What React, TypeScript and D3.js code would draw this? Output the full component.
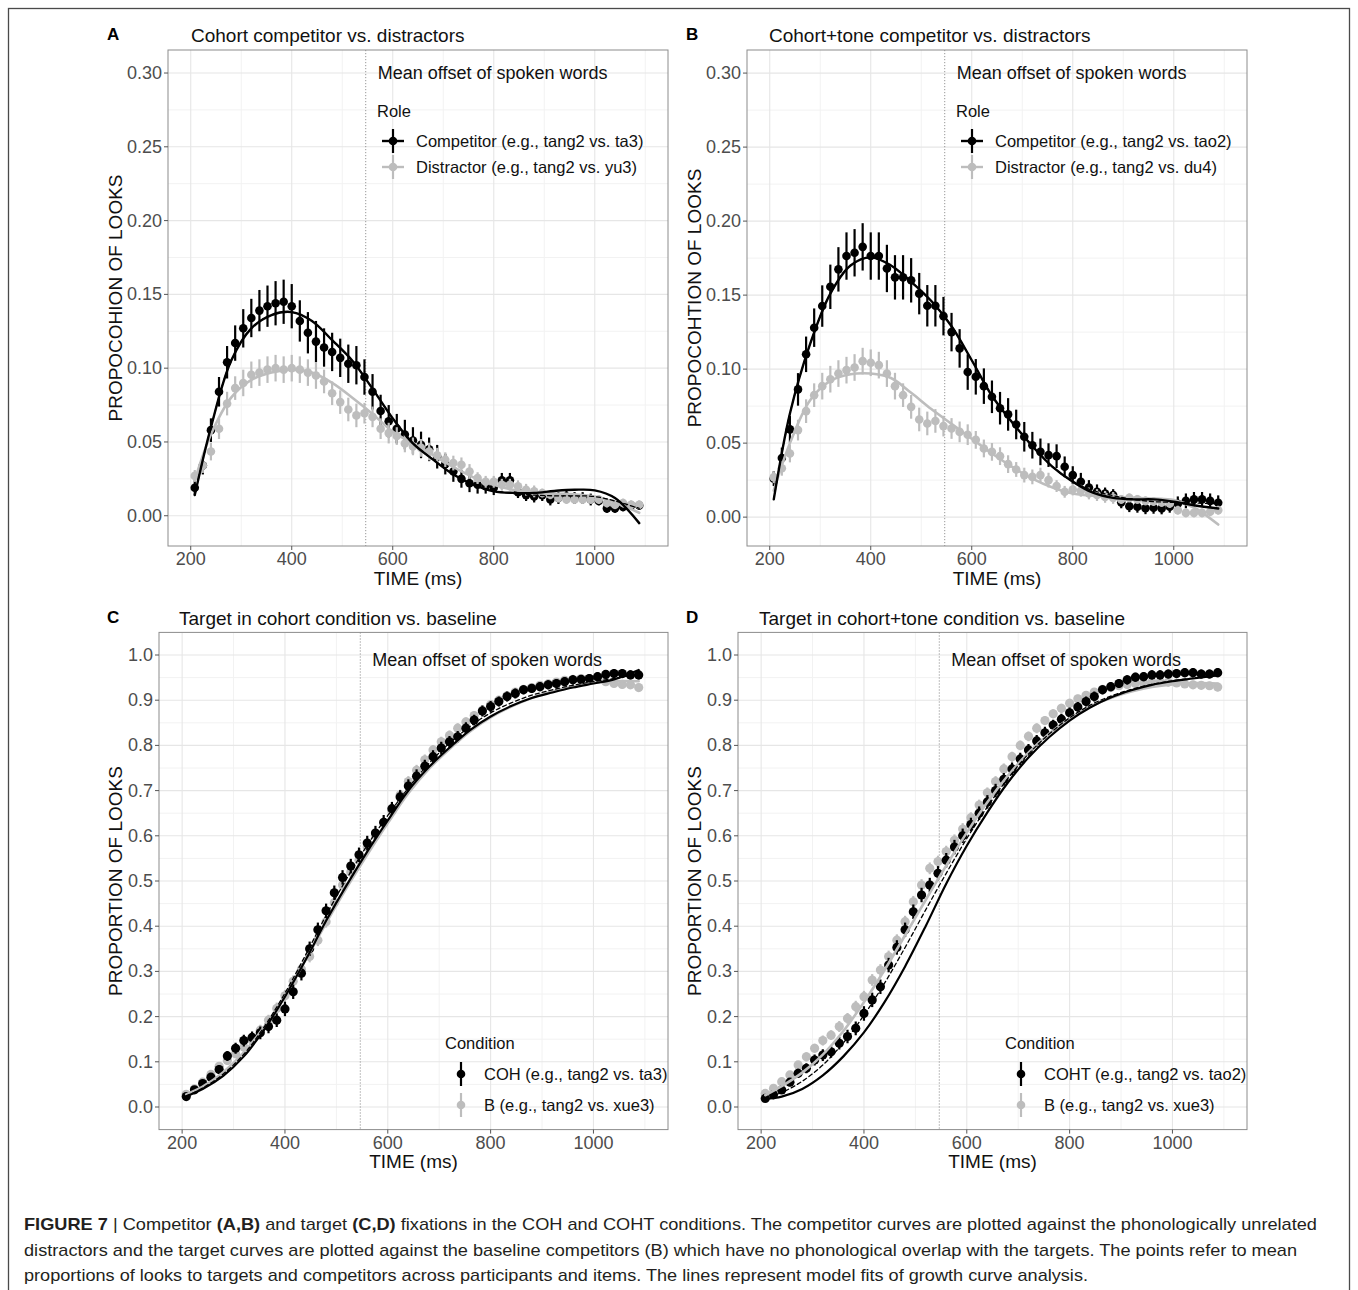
import React from 'react';
import * as d3 from 'd3';

// ---------- data ----------
const times = [208,224,240,256,272,288,304,320,336,352,368,384,400,416,432,448,464,480,496,512,528,544,560,576,592,608,624,640,656,672,688,704,720,736,752,768,784,800,816,832,848,864,880,896,912,928,944,960,976,992,1008,1024,1040,1056,1072,1088];
const fitTimes = [208,240,280,320,360,400,440,480,520,560,600,640,680,720,760,800,840,880,920,960,1000,1040,1088];
const xMajorTicks = [200,400,600,800,1000];
const xMinorTicks = [300,500,700,900,1100];
const offsetTime = 546.5;

// Panel A
const aCompetitor = [0.019,0.034,0.058,0.084,0.104,0.117,0.127,0.134,0.139,0.142,0.144,0.145,0.142,0.132,0.124,0.118,0.114,0.111,0.107,0.103,0.102,0.094,0.084,0.071,0.064,0.059,0.055,0.051,0.048,0.045,0.040,0.035,0.030,0.025,0.022,0.021,0.020,0.019,0.024,0.024,0.016,0.014,0.013,0.014,0.011,0.012,0.013,0.012,0.012,0.011,0.010,0.005,0.005,0.006,0.007,0.007];
const aCompetitorErr = [0.005,0.006,0.008,0.010,0.011,0.012,0.013,0.013,0.014,0.014,0.015,0.015,0.015,0.014,0.014,0.014,0.013,0.013,0.013,0.013,0.013,0.012,0.012,0.011,0.011,0.010,0.010,0.009,0.009,0.008,0.008,0.007,0.007,0.006,0.006,0.006,0.005,0.005,0.005,0.005,0.004,0.004,0.004,0.004,0.004,0.004,0.004,0.004,0.004,0.004,0.003,0.003,0.003,0.003,0.003,0.003];
const aDistractor = [0.027,0.034,0.0435,0.059,0.076,0.0865,0.090,0.0955,0.097,0.099,0.100,0.099,0.100,0.099,0.097,0.095,0.091,0.083,0.077,0.072,0.068,0.0695,0.067,0.059,0.056,0.054,0.049,0.047,0.046,0.0435,0.041,0.038,0.0357,0.0345,0.030,0.0255,0.023,0.023,0.021,0.021,0.020,0.0176,0.0165,0.0154,0.0142,0.012,0.011,0.011,0.011,0.011,0.011,0.0086,0.0075,0.0086,0.0075,0.0075];
const aDistractorErr = [0.004,0.005,0.006,0.007,0.008,0.008,0.009,0.009,0.009,0.009,0.009,0.009,0.009,0.009,0.009,0.009,0.008,0.008,0.008,0.008,0.008,0.007,0.007,0.007,0.007,0.006,0.006,0.006,0.006,0.006,0.005,0.005,0.005,0.005,0.005,0.004,0.004,0.004,0.004,0.004,0.004,0.004,0.004,0.003,0.003,0.003,0.003,0.003,0.003,0.003,0.003,0.003,0.003,0.003,0.003,0.003];
const aCompetitorFit = [0.014,0.060,0.105,0.127,0.136,0.138,0.132,0.119,0.105,0.086,0.066,0.049,0.038,0.028,0.021,0.0165,0.0155,0.0155,0.0168,0.0176,0.0172,0.012,-0.005];
const aDistractorFit = [0.024,0.055,0.080,0.092,0.097,0.099,0.097,0.090,0.080,0.069,0.057,0.049,0.041,0.033,0.026,0.021,0.0175,0.016,0.015,0.0145,0.013,0.009,0.002];
const aDashedFit = [0.014,0.060,0.105,0.127,0.136,0.138,0.132,0.119,0.105,0.086,0.066,0.049,0.038,0.028,0.021,0.017,0.015,0.014,0.0135,0.0135,0.013,0.010,0.005];

// Panel B
const bCompetitor = [0.026,0.040,0.0593,0.0863,0.110,0.128,0.1426,0.1556,0.1674,0.1764,0.1786,0.1826,0.1764,0.1764,0.168,0.162,0.162,0.160,0.151,0.1428,0.1428,0.1358,0.125,0.114,0.098,0.0948,0.0885,0.0813,0.0736,0.0694,0.0626,0.0543,0.0486,0.0441,0.0419,0.0412,0.034,0.0284,0.0239,0.020,0.0171,0.016,0.0149,0.010,0.0074,0.007,0.006,0.0063,0.0059,0.007,0.009,0.011,0.012,0.012,0.011,0.0097];
const bCompetitorErr = [0.005,0.007,0.009,0.011,0.012,0.013,0.014,0.015,0.015,0.016,0.016,0.016,0.016,0.016,0.016,0.015,0.015,0.015,0.014,0.014,0.014,0.013,0.013,0.013,0.012,0.012,0.012,0.011,0.011,0.011,0.010,0.010,0.009,0.009,0.008,0.008,0.007,0.006,0.006,0.005,0.005,0.004,0.004,0.004,0.004,0.004,0.004,0.004,0.004,0.004,0.005,0.005,0.005,0.005,0.005,0.005];
const bDistractor = [0.027,0.033,0.043,0.0588,0.0716,0.0824,0.0885,0.0932,0.097,0.0993,0.1011,0.1054,0.1043,0.1027,0.097,0.0885,0.0824,0.0745,0.066,0.0633,0.065,0.0615,0.0599,0.0576,0.0557,0.0522,0.0464,0.0441,0.0412,0.0358,0.0322,0.0284,0.0272,0.0284,0.025,0.021,0.0171,0.0187,0.0178,0.016,0.0149,0.0137,0.013,0.012,0.013,0.012,0.011,0.0106,0.010,0.0092,0.0047,0.0029,0.0029,0.0029,0.0036,0.0047];
const bDistractorErr = [0.004,0.005,0.006,0.007,0.008,0.008,0.009,0.009,0.009,0.009,0.009,0.009,0.009,0.009,0.009,0.009,0.008,0.008,0.008,0.008,0.008,0.007,0.007,0.007,0.007,0.006,0.006,0.006,0.006,0.006,0.005,0.005,0.005,0.005,0.005,0.004,0.004,0.004,0.004,0.004,0.004,0.004,0.004,0.003,0.003,0.003,0.003,0.003,0.003,0.003,0.003,0.003,0.003,0.003,0.003,0.003];
const bCompetitorFit = [0.012,0.070,0.117,0.151,0.170,0.1755,0.170,0.159,0.146,0.129,0.106,0.082,0.064,0.048,0.034,0.024,0.0165,0.013,0.012,0.012,0.0105,0.008,0.0058];
const bDistractorFit = [0.018,0.050,0.079,0.092,0.0965,0.097,0.094,0.084,0.073,0.063,0.053,0.043,0.034,0.026,0.020,0.016,0.0145,0.0135,0.013,0.0125,0.0115,0.0065,-0.005];
const bDashedFit = [0.012,0.070,0.117,0.151,0.170,0.1755,0.170,0.159,0.146,0.129,0.106,0.082,0.064,0.048,0.034,0.024,0.018,0.0145,0.012,0.0105,0.010,0.0095,0.009];

// Panel C
const cCoh = [0.023,0.038,0.052,0.066,0.083,0.113,0.130,0.147,0.154,0.164,0.178,0.192,0.217,0.255,0.296,0.350,0.392,0.434,0.474,0.508,0.533,0.558,0.584,0.606,0.630,0.660,0.686,0.710,0.732,0.754,0.775,0.794,0.808,0.819,0.838,0.856,0.876,0.886,0.897,0.908,0.915,0.923,0.926,0.930,0.934,0.937,0.941,0.945,0.946,0.948,0.952,0.957,0.959,0.959,0.956,0.956];
const cCohErr = [0.006,0.007,0.008,0.009,0.010,0.011,0.012,0.013,0.013,0.014,0.015,0.015,0.016,0.016,0.016,0.016,0.016,0.016,0.016,0.016,0.016,0.016,0.016,0.016,0.016,0.015,0.015,0.015,0.015,0.014,0.014,0.014,0.013,0.013,0.013,0.012,0.012,0.012,0.011,0.011,0.011,0.010,0.010,0.010,0.010,0.010,0.010,0.010,0.010,0.010,0.010,0.010,0.010,0.010,0.010,0.010];
const cBase = [0.028,0.040,0.055,0.072,0.090,0.103,0.118,0.133,0.148,0.170,0.192,0.218,0.246,0.278,0.305,0.333,0.369,0.410,0.452,0.491,0.520,0.546,0.575,0.600,0.628,0.655,0.690,0.720,0.745,0.768,0.790,0.808,0.822,0.838,0.852,0.866,0.878,0.890,0.900,0.910,0.918,0.924,0.928,0.933,0.936,0.940,0.944,0.946,0.948,0.948,0.946,0.941,0.937,0.935,0.934,0.928];
const cBaseErr = [0.005,0.006,0.007,0.008,0.009,0.010,0.010,0.011,0.011,0.012,0.012,0.013,0.013,0.013,0.013,0.013,0.013,0.013,0.013,0.013,0.013,0.013,0.013,0.013,0.013,0.012,0.012,0.012,0.012,0.012,0.011,0.011,0.011,0.011,0.010,0.010,0.010,0.010,0.009,0.009,0.009,0.009,0.009,0.009,0.009,0.009,0.009,0.009,0.009,0.009,0.009,0.009,0.009,0.009,0.009,0.009];
const cCohFit = [0.024,0.040,0.069,0.112,0.172,0.244,0.325,0.412,0.491,0.565,0.634,0.700,0.752,0.795,0.834,0.864,0.887,0.905,0.917,0.928,0.937,0.946,0.967];
const cBaseFit = [0.028,0.045,0.077,0.121,0.178,0.247,0.325,0.407,0.485,0.558,0.628,0.694,0.748,0.792,0.831,0.862,0.886,0.905,0.919,0.930,0.938,0.942,0.942];
const cDashedFit = [0.024,0.042,0.073,0.117,0.178,0.252,0.336,0.424,0.505,0.579,0.645,0.706,0.760,0.805,0.842,0.872,0.894,0.911,0.923,0.933,0.941,0.948,0.958];

// Panel D
const dCoht = [0.019,0.027,0.0376,0.055,0.0745,0.0856,0.104,0.115,0.122,0.141,0.156,0.174,0.207,0.237,0.266,0.314,0.353,0.392,0.432,0.469,0.491,0.517,0.546,0.575,0.600,0.625,0.650,0.675,0.700,0.725,0.748,0.770,0.790,0.810,0.828,0.845,0.858,0.872,0.885,0.897,0.908,0.923,0.930,0.937,0.945,0.951,0.952,0.956,0.956,0.958,0.959,0.961,0.961,0.958,0.958,0.961];
const dCohtErr = [0.006,0.007,0.008,0.009,0.010,0.011,0.012,0.013,0.013,0.014,0.015,0.015,0.016,0.016,0.016,0.016,0.016,0.016,0.016,0.016,0.016,0.016,0.016,0.016,0.016,0.015,0.015,0.015,0.015,0.014,0.014,0.014,0.013,0.013,0.013,0.012,0.012,0.012,0.011,0.011,0.011,0.010,0.010,0.010,0.010,0.010,0.010,0.010,0.010,0.010,0.010,0.010,0.010,0.010,0.010,0.010];
const dBase = [0.030,0.041,0.056,0.071,0.093,0.111,0.130,0.147,0.159,0.178,0.196,0.222,0.244,0.281,0.303,0.333,0.369,0.410,0.454,0.491,0.528,0.543,0.565,0.590,0.615,0.640,0.668,0.695,0.720,0.748,0.775,0.800,0.820,0.838,0.855,0.870,0.882,0.893,0.903,0.911,0.918,0.924,0.928,0.932,0.935,0.937,0.938,0.940,0.940,0.940,0.938,0.936,0.934,0.933,0.932,0.929];
const dBaseErr = [0.005,0.006,0.007,0.008,0.009,0.010,0.010,0.011,0.011,0.012,0.012,0.013,0.013,0.013,0.013,0.013,0.013,0.013,0.013,0.013,0.013,0.013,0.013,0.013,0.013,0.012,0.012,0.012,0.012,0.012,0.011,0.011,0.011,0.011,0.010,0.010,0.010,0.010,0.009,0.009,0.009,0.009,0.009,0.009,0.009,0.009,0.009,0.009,0.009,0.009,0.009,0.009,0.009,0.009,0.009,0.009];
const dCohtFit = [0.018,0.023,0.040,0.070,0.112,0.165,0.232,0.311,0.400,0.494,0.578,0.652,0.718,0.773,0.818,0.855,0.884,0.906,0.922,0.934,0.942,0.948,0.955];
const dBaseFit = [0.026,0.046,0.076,0.116,0.168,0.232,0.303,0.380,0.458,0.534,0.607,0.674,0.733,0.784,0.826,0.860,0.886,0.905,0.919,0.929,0.935,0.938,0.937];
const dDashedFit = [0.020,0.032,0.057,0.093,0.142,0.203,0.274,0.353,0.436,0.517,0.594,0.664,0.727,0.781,0.825,0.861,0.889,0.909,0.924,0.935,0.943,0.949,0.956];

const yTicksAB = [0, 0.05, 0.10, 0.15, 0.20, 0.25, 0.30];
const yMinorAB = [0.025, 0.075, 0.125, 0.175, 0.225, 0.275];
const yTicksCD = [0, 0.1, 0.2, 0.3, 0.4, 0.5, 0.6, 0.7, 0.8, 0.9, 1.0];
const yMinorCD = [0.05, 0.15, 0.25, 0.35, 0.45, 0.55, 0.65, 0.75, 0.85, 0.95];

const BLACK = '#000000';
const GREY = '#bdbdbd';
const FONT = "'Liberation Sans', Arial, Helvetica, sans-serif";

type Series = { values: number[]; err: number[]; color: string; label: string };
type PanelCfg = {
  tag: string; title: string; tagX: number; titleX: number; titleY: number;
  left: number; right: number; top: number; bottom: number;
  yDomain: [number, number]; yTicks: number[]; yMinor: number[]; yFmt: string;
  yTitle: string; yTitleX: number;
  back: Series; front: Series;
  fits: { values: number[]; color: string; dash?: string; width: number }[];
  legendTitle: string; legendKeyX: number; legendTitleY: number; legendY: number[];
  legendLine: boolean; legendItems: Series[]; offsetLabelY: number;
  pointR: number;
};

const panels: PanelCfg[] = [
  {
    tag: 'A', title: 'Cohort competitor vs. distractors', tagX: 107, titleX: 191, titleY: 35,
    left: 168, right: 668, top: 50, bottom: 546,
    yDomain: [-0.0205, 0.3156], yTicks: yTicksAB, yMinor: yMinorAB, yFmt: '.2f',
    yTitle: 'PROPOCOHION OF LOOKS', yTitleX: 115,
    back: { values: aCompetitor, err: aCompetitorErr, color: BLACK, label: 'Competitor (e.g., tang2 vs. ta3)' },
    front: { values: aDistractor, err: aDistractorErr, color: GREY, label: 'Distractor (e.g., tang2 vs. yu3)' },
    fits: [
      { values: aDistractorFit, color: GREY, width: 2.6 },
      { values: aCompetitorFit, color: BLACK, width: 2.4 },
      { values: aDashedFit, color: BLACK, width: 1.3, dash: '4,3' },
    ],
    legendTitle: 'Role', legendKeyX: 393, legendTitleY: 111, legendY: [141, 167], legendLine: true,
    legendItems: [], offsetLabelY: 0.30, pointR: 4.3,
  },
  {
    tag: 'B', title: 'Cohort+tone competitor vs. distractors', tagX: 686, titleX: 769, titleY: 35,
    left: 747, right: 1247, top: 50, bottom: 546,
    yDomain: [-0.0195, 0.3156], yTicks: yTicksAB, yMinor: yMinorAB, yFmt: '.2f',
    yTitle: 'PROPOCOHTION OF LOOKS', yTitleX: 694,
    back: { values: bCompetitor, err: bCompetitorErr, color: BLACK, label: 'Competitor (e.g., tang2 vs. tao2)' },
    front: { values: bDistractor, err: bDistractorErr, color: GREY, label: 'Distractor (e.g., tang2 vs. du4)' },
    fits: [
      { values: bDistractorFit, color: GREY, width: 2.6 },
      { values: bCompetitorFit, color: BLACK, width: 2.4 },
      { values: bDashedFit, color: BLACK, width: 1.3, dash: '4,3' },
    ],
    legendTitle: 'Role', legendKeyX: 972, legendTitleY: 111, legendY: [141, 167], legendLine: true,
    legendItems: [], offsetLabelY: 0.30, pointR: 4.3,
  },
  {
    tag: 'C', title: 'Target in cohort condition vs. baseline', tagX: 107, titleX: 179, titleY: 618,
    left: 159, right: 668, top: 632.4, bottom: 1129.6,
    yDomain: [-0.05, 1.05], yTicks: yTicksCD, yMinor: yMinorCD, yFmt: '.1f',
    yTitle: 'PROPORTION OF LOOKS', yTitleX: 115,
    back: { values: cBase, err: cBaseErr, color: GREY, label: 'B (e.g., tang2 vs. xue3)' },
    front: { values: cCoh, err: cCohErr, color: BLACK, label: 'COH (e.g., tang2 vs. ta3)' },
    fits: [
      { values: cBaseFit, color: GREY, width: 2.6 },
      { values: cCohFit, color: BLACK, width: 2.2 },
      { values: cDashedFit, color: BLACK, width: 1.3, dash: '4,3' },
    ],
    legendTitle: 'Condition', legendKeyX: 461, legendTitleY: 1043, legendY: [1074, 1105], legendLine: false,
    legendItems: [], offsetLabelY: 0.989, pointR: 4.6,
  },
  {
    tag: 'D', title: 'Target in cohort+tone condition vs. baseline', tagX: 686, titleX: 759, titleY: 618,
    left: 738, right: 1247, top: 632.4, bottom: 1129.6,
    yDomain: [-0.05, 1.05], yTicks: yTicksCD, yMinor: yMinorCD, yFmt: '.1f',
    yTitle: 'PROPORTION OF LOOKS', yTitleX: 694,
    back: { values: dBase, err: dBaseErr, color: GREY, label: 'B (e.g., tang2 vs. xue3)' },
    front: { values: dCoht, err: dCohtErr, color: BLACK, label: 'COHT (e.g., tang2 vs. tao2)' },
    fits: [
      { values: dBaseFit, color: GREY, width: 2.6 },
      { values: dCohtFit, color: BLACK, width: 2.2 },
      { values: dDashedFit, color: BLACK, width: 1.3, dash: '4,3' },
    ],
    legendTitle: 'Condition', legendKeyX: 1021, legendTitleY: 1043, legendY: [1074, 1105], legendLine: false,
    legendItems: [], offsetLabelY: 0.989, pointR: 4.6,
  },
];

function Panel({ p }: { p: PanelCfg }) {
  const x = d3.scaleLinear().domain([155, 1145]).range([p.left, p.right]);
  const y = d3.scaleLinear().domain(p.yDomain).range([p.bottom, p.top]);
  const fmt = d3.format(p.yFmt);
  const line = d3.line<number>()
    .x((_, i) => x(fitTimes[i]))
    .y((d) => y(d))
    .curve(d3.curveCatmullRom.alpha(0.5));
  const clipId = `clip-${p.tag}`;
  const legendOrder: Series[] = p.legendLine ? [p.back, p.front] : [p.front, p.back];

  const drawSeries = (s: Series, key: string) => (
    <g key={key}>
      {s.values.map((v, i) => (
        <line key={'e' + i} x1={x(times[i])} x2={x(times[i])} y1={y(v - s.err[i])} y2={y(v + s.err[i])}
          stroke={s.color} strokeWidth={2.2} />
      ))}
      {s.values.map((v, i) => (
        <circle key={'p' + i} cx={x(times[i])} cy={y(v)} r={p.pointR} fill={s.color} />
      ))}
    </g>
  );

  return (
    <g>
      <defs>
        <clipPath id={clipId}>
          <rect x={p.left} y={p.top} width={p.right - p.left} height={p.bottom - p.top} />
        </clipPath>
      </defs>
      <rect x={p.left} y={p.top} width={p.right - p.left} height={p.bottom - p.top} fill="#fff" />
      {/* minor grid */}
      {xMinorTicks.map((t) => (
        <line key={'xm' + t} x1={x(t)} x2={x(t)} y1={p.top} y2={p.bottom} stroke="#f2f2f2" strokeWidth={1} />
      ))}
      {p.yMinor.map((t) => (
        <line key={'ym' + t} x1={p.left} x2={p.right} y1={y(t)} y2={y(t)} stroke="#f2f2f2" strokeWidth={1} />
      ))}
      {/* major grid */}
      {xMajorTicks.map((t) => (
        <line key={'xg' + t} x1={x(t)} x2={x(t)} y1={p.top} y2={p.bottom} stroke="#e6e6e6" strokeWidth={1.1} />
      ))}
      {p.yTicks.map((t) => (
        <line key={'yg' + t} x1={p.left} x2={p.right} y1={y(t)} y2={y(t)} stroke="#e6e6e6" strokeWidth={1.1} />
      ))}
      {/* mean offset */}
      <line x1={x(offsetTime)} x2={x(offsetTime)} y1={p.top} y2={p.bottom} stroke="#8a8a8a" strokeWidth={0.9} strokeDasharray="1.2,1.8" />
      <g clipPath={`url(#${clipId})`}>
        {drawSeries(p.back, 'back')}
        {drawSeries(p.front, 'front')}
        {p.fits.map((f, k) => (
          <path key={'f' + k} d={line(f.values) || ''} fill="none" stroke={f.color} strokeWidth={f.width}
            strokeDasharray={f.dash} strokeLinejoin="round" strokeLinecap="round" />
        ))}
      </g>
      <text x={x(offsetTime) + 12} y={y(p.offsetLabelY)} fontSize={18} dominantBaseline="central" fill="#111">Mean offset of spoken words</text>
      {/* legend */}
      <text x={p.legendKeyX - 16} y={p.legendTitleY} fontSize={16.5} dominantBaseline="central" fill="#111">{p.legendTitle}</text>
      {legendOrder.map((s, i) => {
        const ly = p.legendY[i];
        const kx = p.legendKeyX;
        return (
          <g key={'lg' + i}>
            {p.legendLine && <line x1={kx - 11} x2={kx + 11} y1={ly} y2={ly} stroke={s.color} strokeWidth={2.4} />}
            <line x1={kx} x2={kx} y1={ly - 12} y2={ly + 12} stroke={s.color} strokeWidth={2.2} />
            <circle cx={kx} cy={ly} r={4.3} fill={s.color} />
            <text x={kx + 23} y={ly} fontSize={16.5} dominantBaseline="central" fill="#111">{s.label}</text>
          </g>
        );
      })}
      {/* border */}
      <rect x={p.left} y={p.top} width={p.right - p.left} height={p.bottom - p.top} fill="none" stroke="#8c8c8c" strokeWidth={1} />
      {/* axes ticks */}
      {p.yTicks.map((t) => (
        <g key={'yt' + t}>
          <line x1={p.left - 4} x2={p.left} y1={y(t)} y2={y(t)} stroke="#555" strokeWidth={1} />
          <text x={p.left - 6} y={y(t)} fontSize={18} textAnchor="end" dominantBaseline="central" fill="#4d4d4d">{fmt(t)}</text>
        </g>
      ))}
      {xMajorTicks.map((t) => (
        <g key={'xt' + t}>
          <line x1={x(t)} x2={x(t)} y1={p.bottom} y2={p.bottom + 4} stroke="#555" strokeWidth={1} />
          <text x={x(t)} y={p.bottom + 13} fontSize={18} textAnchor="middle" dominantBaseline="central" fill="#4d4d4d">{t}</text>
        </g>
      ))}
      <text x={(p.left + p.right) / 2} y={p.bottom + 32} fontSize={19} textAnchor="middle" dominantBaseline="central" fill="#111">TIME (ms)</text>
      <text transform={`translate(${p.yTitleX},${(p.top + p.bottom) / 2}) rotate(-90)`} fontSize={19} textAnchor="middle" dominantBaseline="central" fill="#111">{p.yTitle}</text>
      {/* titles */}
      <text x={p.tagX} y={p.titleY - 1} fontSize={17} fontWeight="bold" dominantBaseline="central" fill="#000">{p.tag}</text>
      <text x={p.titleX} y={p.titleY} fontSize={19} dominantBaseline="central" fill="#111">{p.title}</text>
    </g>
  );
}

export default function App() {
  const capFont = "'Liberation Sans Narrow', 'Arial Narrow', 'Liberation Sans', Arial, sans-serif";
  return (
    <svg width={1358} height={1290} style={{ position: 'absolute', left: 0, top: 0, background: '#fff' }} fontFamily={FONT}>
      <rect x={0} y={0} width={1358} height={1290} fill="#fff" />
      <rect x={8.5} y={8.5} width={1341} height={1300} fill="none" stroke="#4a4a4a" strokeWidth={1.3} />
      {panels.map((p) => <Panel key={p.tag} p={p} />)}
      <g fontFamily={capFont} fontSize={17} fill="#231f20">
        <text x={24} y={1230} textLength={1293} lengthAdjust="spacingAndGlyphs">
          <tspan fontWeight="bold">FIGURE 7</tspan> | Competitor <tspan fontWeight="bold">(A,B)</tspan> and target <tspan fontWeight="bold">(C,D)</tspan> fixations in the COH and COHT conditions. The competitor curves are plotted against the phonologically unrelated
        </text>
        <text x={24} y={1256} textLength={1273} lengthAdjust="spacingAndGlyphs">
          distractors and the target curves are plotted against the baseline competitors (B) which have no phonological overlap with the targets. The points refer to mean
        </text>
        <text x={24} y={1281} textLength={1064} lengthAdjust="spacingAndGlyphs">
          proportions of looks to targets and competitors across participants and items. The lines represent model fits of growth curve analysis.
        </text>
      </g>
    </svg>
  );
}
